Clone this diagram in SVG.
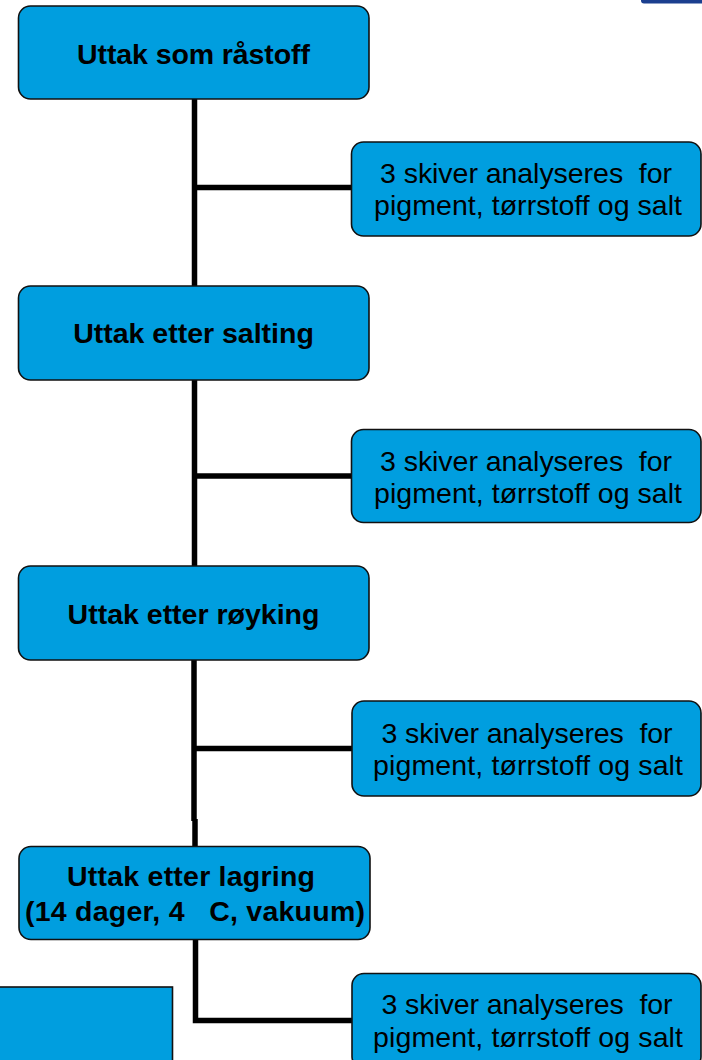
<svg xmlns="http://www.w3.org/2000/svg" width="702" height="1060" viewBox="0 0 702 1060">
<style>
.box{fill:#009EDF;stroke:#111;stroke-width:1.6}
.t{font-family:"Liberation Sans",Arial,sans-serif;font-size:28.5px;fill:#000;text-anchor:middle;white-space:pre}
.b{font-weight:bold}
.c{fill:none;stroke:#000;stroke-width:5.5;stroke-linejoin:miter}
</style>
<rect width="702" height="1060" fill="#fff"/>
<g id="corner-bar"><rect x="641" y="-5" width="70" height="8.5" rx="3" fill="#1B3F8F"/></g>
<g id="connectors">
<path class="c" d="M194.5 99 V286"/>
<path class="c" d="M194.5 187.5 H352"/>
<path class="c" d="M194.5 380 V566"/>
<path class="c" d="M194.5 476 H352"/>
<path class="c" d="M194 660 V821"/>
<path class="c" d="M195 819 V847"/>
<path class="c" d="M194 748.5 H352"/>
<path class="c" d="M195.5 939 V1020.5 H352"/>
</g>
<g id="n1"><rect class="box" x="18.5" y="6" width="350.5" height="93" rx="12"/>
<text class="t b" x="193.5" y="64" textLength="233">Uttak som råstoff</text></g>
<g id="s1"><rect class="box" x="351.5" y="142" width="349.5" height="94" rx="12"/>
<text class="t" x="526" y="183" textLength="292">3 skiver analyseres  for</text>
<text class="t" x="528" y="215" textLength="308">pigment, tørrstoff og salt</text></g>
<g id="n2"><rect class="box" x="18.5" y="286" width="350.5" height="94" rx="12"/>
<text class="t b" x="193.5" y="343">Uttak etter salting</text></g>
<g id="s2"><rect class="box" x="351.5" y="429.5" width="349.5" height="93" rx="12"/>
<text class="t" x="526" y="471" textLength="292">3 skiver analyseres  for</text>
<text class="t" x="528" y="503" textLength="308">pigment, tørrstoff og salt</text></g>
<g id="n3"><rect class="box" x="18.5" y="566" width="350.5" height="94" rx="12"/>
<text class="t b" x="193.5" y="624">Uttak etter røyking</text></g>
<g id="s3"><rect class="box" x="352" y="701" width="349" height="95" rx="12"/>
<text class="t" x="527" y="743" textLength="291">3 skiver analyseres  for</text>
<text class="t" x="528" y="775" textLength="310">pigment, tørrstoff og salt</text></g>
<g id="n4"><rect class="box" x="19" y="846.5" width="351" height="93" rx="12"/>
<text class="t b" x="191" y="886" textLength="248">Uttak etter lagring</text>
<text class="t b" x="195" y="921" textLength="340">(14 dager, 4   C, vakuum)</text></g>
<g id="s4"><rect class="box" x="352" y="973.5" width="349" height="95" rx="12"/>
<text class="t" x="527" y="1014" textLength="291">3 skiver analyseres  for</text>
<text class="t" x="528" y="1047" textLength="310">pigment, tørrstoff og salt</text></g>
<g id="n5"><rect class="box" x="-2" y="987" width="174.5" height="80" rx="0"/></g>
</svg>
